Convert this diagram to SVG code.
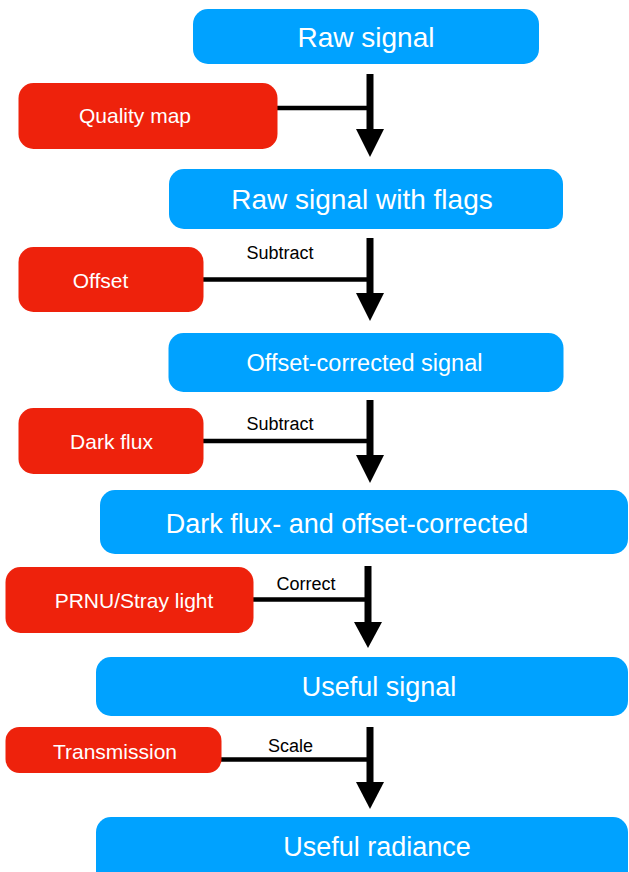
<svg xmlns="http://www.w3.org/2000/svg" width="629" height="872" viewBox="0 0 629 872">
<style>
.blue{fill:#00A2FF}
.red{fill:#EE220C}
.bt{fill:#fff;font-family:"Liberation Sans",Arial,sans-serif;text-anchor:middle}
.rt{fill:#fff;font-family:"Liberation Sans",Arial,sans-serif;font-size:21px;text-anchor:middle}
.lbl{fill:#000;font-family:"Liberation Sans",Arial,sans-serif;font-size:18px;text-anchor:middle}
.stem{stroke:#000;stroke-width:7;fill:none}
.feed{stroke:#000;stroke-width:4.5;fill:none}
.head{fill:#000}
</style>
<rect width="629" height="872" fill="#fff"/>
<g id="connectors">
  <line class="stem" x1="370" y1="74" x2="370" y2="131"/>
  <polygon class="head" points="356,129 384,129 370,157"/>
  <line class="feed" x1="276" y1="108" x2="370" y2="108"/>

  <line class="stem" x1="370" y1="238" x2="370" y2="295"/>
  <polygon class="head" points="356,293 384,293 370,321"/>
  <line class="feed" x1="202" y1="279.5" x2="370" y2="279.5"/>
  <text class="lbl" x="280" y="259">Subtract</text>

  <line class="stem" x1="370" y1="400" x2="370" y2="457"/>
  <polygon class="head" points="356,455 384,455 370,483"/>
  <line class="feed" x1="202" y1="441" x2="370" y2="441"/>
  <text class="lbl" x="280" y="430">Subtract</text>

  <line class="stem" x1="368" y1="566" x2="368" y2="624"/>
  <polygon class="head" points="354,622 382,622 368,648"/>
  <line class="feed" x1="252" y1="599.5" x2="368" y2="599.5"/>
  <text class="lbl" x="306" y="590">Correct</text>

  <line class="stem" x1="370" y1="727" x2="370" y2="784"/>
  <polygon class="head" points="356,782 384,782 370,809"/>
  <line class="feed" x1="220" y1="759.5" x2="370" y2="759.5"/>
  <text class="lbl" x="290.5" y="752">Scale</text>
</g>
<g id="raw-signal">
  <rect class="blue" x="193" y="9" width="346" height="55" rx="15"/>
  <text class="bt" x="366" y="47" font-size="28">Raw signal</text>
</g>
<g id="quality-map">
  <rect class="red" x="18.5" y="83" width="259" height="66" rx="15"/>
  <text class="rt" x="135" y="123">Quality map</text>
</g>
<g id="raw-signal-flags">
  <rect class="blue" x="169" y="169" width="394" height="60" rx="15"/>
  <text class="bt" x="362" y="209" font-size="28">Raw signal with flags</text>
</g>
<g id="offset">
  <rect class="red" x="18.5" y="247" width="185" height="65" rx="15"/>
  <text class="rt" x="100.5" y="288">Offset</text>
</g>
<g id="offset-corrected">
  <rect class="blue" x="168.5" y="333" width="395" height="59" rx="15"/>
  <text class="bt" x="364.5" y="370.5" font-size="23.5">Offset-corrected signal</text>
</g>
<g id="dark-flux">
  <rect class="red" x="18.5" y="408" width="185" height="66" rx="15"/>
  <text class="rt" x="111.5" y="449">Dark flux</text>
</g>
<g id="dark-offset-corrected">
  <rect class="blue" x="100" y="490" width="528" height="64" rx="15"/>
  <text class="bt" x="347" y="532.5" font-size="27">Dark flux- and offset-corrected</text>
</g>
<g id="prnu">
  <rect class="red" x="5.5" y="567" width="248" height="66" rx="15"/>
  <text class="rt" x="134" y="608">PRNU/Stray light</text>
</g>
<g id="useful-signal">
  <rect class="blue" x="96" y="657" width="532" height="59" rx="15"/>
  <text class="bt" x="379" y="696" font-size="27">Useful signal</text>
</g>
<g id="transmission">
  <rect class="red" x="5.5" y="727" width="216" height="46" rx="14"/>
  <text class="rt" x="115" y="758.5">Transmission</text>
</g>
<g id="useful-radiance">
  <rect class="blue" x="96" y="817" width="532" height="80" rx="15"/>
  <text class="bt" x="377" y="856" font-size="27">Useful radiance</text>
</g>
</svg>
